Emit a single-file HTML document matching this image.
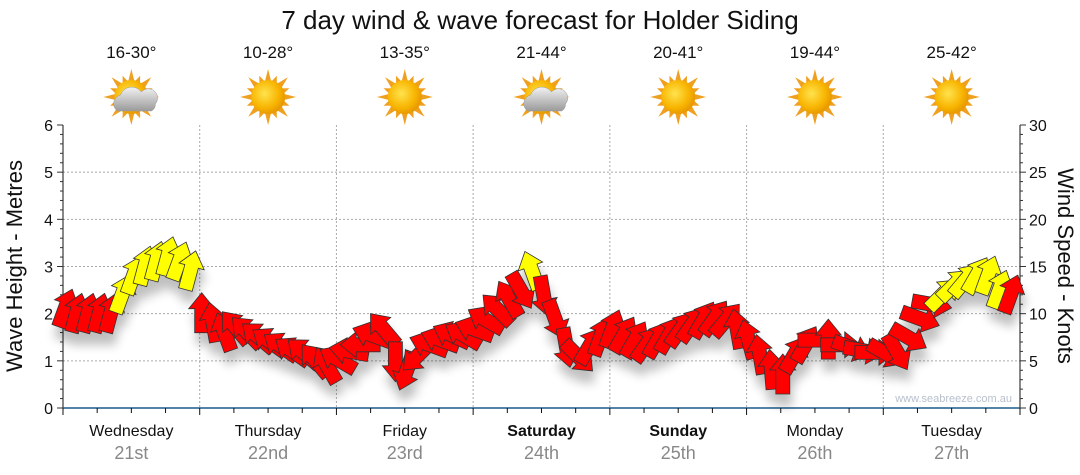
<!DOCTYPE html>
<html><head><meta charset="utf-8"><style>
body{margin:0;background:#fff;}
svg{display:block;font-family:"Liberation Sans",sans-serif;}
</style></head><body>
<svg id="chart" width="1080" height="475" viewBox="0 0 1080 475">
<defs>
<filter id="shadow" x="-20%" y="-20%" width="140%" height="160%"><feGaussianBlur in="SourceAlpha" stdDeviation="5"/><feOffset dx="2" dy="12" result="b"/><feComponentTransfer><feFuncA type="linear" slope="0.25"/></feComponentTransfer><feMerge><feMergeNode/><feMergeNode in="SourceGraphic"/></feMerge></filter>
<radialGradient id="sunG" cx="40%" cy="40%" r="60%"><stop offset="0" stop-color="#ffe34d"/><stop offset="0.7" stop-color="#f8b400"/><stop offset="1" stop-color="#e89a00"/></radialGradient>
<linearGradient id="cloudG" x1="0" y1="0" x2="0" y2="1"><stop offset="0" stop-color="#f2f2f2"/><stop offset="1" stop-color="#9a9a9a"/></linearGradient>
</defs>
<text x="540" y="29" text-anchor="middle" font-size="26" fill="#111">7 day wind &amp; wave forecast for Holder Siding</text>
<g id="grid"></g>
<g id="header"></g>
<g id="axes"></g>
<text x="1012" y="402" text-anchor="end" font-size="11" fill="#b8c0cc">www.seabreeze.com.au</text>
<g id="arrows" filter="url(#shadow)"></g>
<text transform="translate(22,266) rotate(-90)" text-anchor="middle" font-size="22" fill="#111">Wave Height - Metres</text>
<text transform="translate(1058,266) rotate(90)" text-anchor="middle" font-size="22" fill="#111">Wind Speed - Knots</text>
</svg>
<script>
const days = ["Wednesday","Thursday","Friday","Saturday","Sunday","Monday","Tuesday"];
const dates = ["21st","22nd","23rd","24th","25th","26th","27th"];
const boldDays = [false,false,false,true,true,false,false];
const temps = ["16-30°","10-28°","13-35°","21-44°","20-41°","19-44°","25-42°"];
const cloudy = [true,false,false,true,false,false,false];
const waveTicks = [0,1,2,3,4,5,6];
const windTicks = [0,5,10,15,20,25,30];
// wind speed (knots), every 2 hours from Wed 00:00
const windSpeed = [10.5,10,10,10,10,12,14,15,15.5,16,15.5,14.5,
 10,9,8,8.5,8,7.5,7,6.5,6,5.8,5,4.5,
 5.1,6,6.7,7.7,8.3,5,4,5.6,6.7,7.2,7.7,7.7,
 8.3,9.3,10.4,11.5,12.5,14.5,12,9.5,6.5,5.5,6.5,7.5,
 8.3,7.7,7.2,6.7,7.2,7.7,8.3,8.8,9.3,9.5,9.3,8.3,
 7.2,5.6,4,3.5,5.6,6.7,7.2,7.2,6.7,6.4,6.1,5.9,
 5.8,6,7.5,9.5,11,12,13,13.5,14,14,12.5,12];
// wind direction (degrees arrow points, 0 = up, clockwise)
const windDir = [20,15,15,15,15,20,20,15,15,15,20,15,
 0,-10,-20,-40,-45,-50,-55,-55,-55,-50,-40,-30,
 -60,-80,-90,-70,-40,180,200,225,-70,-70,-65,-60,
 -70,-60,-45,-30,150,-20,170,160,170,135,30,20,
 20,30,30,35,30,30,35,35,30,35,40,-10,
 -15,-10,-5,0,30,30,90,0,90,110,100,90,
 120,150,120,110,100,45,45,40,30,20,20,20];
const windYellow = [0,0,0,0,0,1,1,1,1,1,1,1,
 0,0,0,0,0,0,0,0,0,0,0,0,
 0,0,0,0,0,0,0,0,0,0,0,0,
 0,0,0,0,0,1,0,0,0,0,0,0,
 0,0,0,0,0,0,0,0,0,0,0,0,
 0,0,0,0,0,0,0,0,0,0,0,0,
 0,0,0,0,0,1,1,1,1,1,1,0];

const NS="http://www.w3.org/2000/svg";
const X0=63,X1=1020,Y0=408,Y6=125;
const hourW=(X1-X0)/168;
const xHour=h=>X0+h*hourW;
const yWave=v=>Y0-(v/6)*(Y0-Y6);
const yWind=k=>Y0-(k/30)*(Y0-Y6);
function el(tag,attrs,parent){const e=document.createElementNS(NS,tag);for(const k in attrs)e.setAttribute(k,attrs[k]);parent.appendChild(e);return e;}
const grid=document.getElementById('grid'),axes=document.getElementById('axes'),header=document.getElementById('header'),arrows=document.getElementById('arrows');
waveTicks.forEach(v=>{ if(v>0&&v<6){const g=el('line',{x1:X0,x2:X1,y1:yWave(v),y2:yWave(v),stroke:'#aaa','stroke-dasharray':'2,2'},grid);

}});
for(let d=1;d<7;d++){const g=el('line',{x1:xHour(d*24),x2:xHour(d*24),y1:Y6,y2:Y0,stroke:'#aaa','stroke-dasharray':'2,2'},grid);

}
el('line',{x1:X0,x2:X0,y1:Y6,y2:Y0,stroke:'#111'},axes);
el('line',{x1:X1,x2:X1,y1:Y6,y2:Y0,stroke:'#111'},axes);
el('line',{x1:X0,x2:X1,y1:Y0,y2:Y0,stroke:'#1a5a8a','stroke-width':1.5},axes);
for(let i=0;i<=30;i++){const y=yWave(i*0.2);el('line',{x1:X0-(i%5?3:6),x2:X0,y1:y,y2:y,stroke:'#333'},axes);}
for(let i=0;i<=30;i++){const y=yWind(i);el('line',{x1:X1,x2:X1+(i%5?3:6),y1:y,y2:y,stroke:'#333'},axes);}
waveTicks.forEach(v=>{const t=el('text',{x:X0-10,y:yWave(v)+6,'text-anchor':'end','font-size':16,fill:'#111'},axes);t.textContent=v;

});
windTicks.forEach(v=>{const t=el('text',{x:X1+9,y:yWind(v)+6,'font-size':16,fill:'#111'},axes);t.textContent=v;

});
for(let h=0;h<=168;h+=6){const x=xHour(h);el('line',{x1:x,x2:x,y1:Y0,y2:Y0+(h%24?5:7),stroke:'#111'},axes);}
days.forEach((d,i)=>{
 const cx=xHour(i*24+12);
 const t=el('text',{x:cx,y:58,'text-anchor':'middle','font-size':17,fill:'#111'},header);t.textContent=temps[i];
 
 
 const ic=el('g',{transform:`translate(${cx},97)`},header);
 
 
 for(let r=0;r<16;r++){const a=r*22.5,len=r%2?23:28;el('polygon',{points:`-3.5,-14 0,-${len} 3.5,-14`,fill:'#f0a020',transform:`rotate(${a})`},ic);}
 el('circle',{r:17,fill:'url(#sunG)'},ic);
 if(cloudy[i]){el('path',{d:'M-14,14 a9,9 0 0 1 3,-16 a12,12 0 0 1 21,-3 a9,9 0 0 1 14,12 a7,7 0 0 1 -4,7 z',fill:'url(#cloudG)',stroke:'#999','stroke-width':0.5},ic);}
 const dn=el('text',{x:cx,y:436,'text-anchor':'middle','font-size':16,fill:'#111','font-weight':boldDays[i]?'bold':'normal'},header);dn.textContent=d;
 
 
 const dt=el('text',{x:cx,y:459,'text-anchor':'middle','font-size':18,fill:'#888'},header);dt.textContent=dates[i];
 
 
});
windSpeed.forEach((k,i)=>{
 const x=xHour(i*2)+2,y=yWind(k);
 const a=el('polygon',{points:'0,-21 13,-5 7,-5 7,19 -7,19 -7,-5 -13,-5',fill:windYellow[i]?'#ffff00':'#ff0000',stroke:'#333','stroke-width':0.8,transform:`translate(${x.toFixed(1)},${y.toFixed(1)}) rotate(${windDir[i]})`},arrows);
 
 
});
</script>
</body></html>
